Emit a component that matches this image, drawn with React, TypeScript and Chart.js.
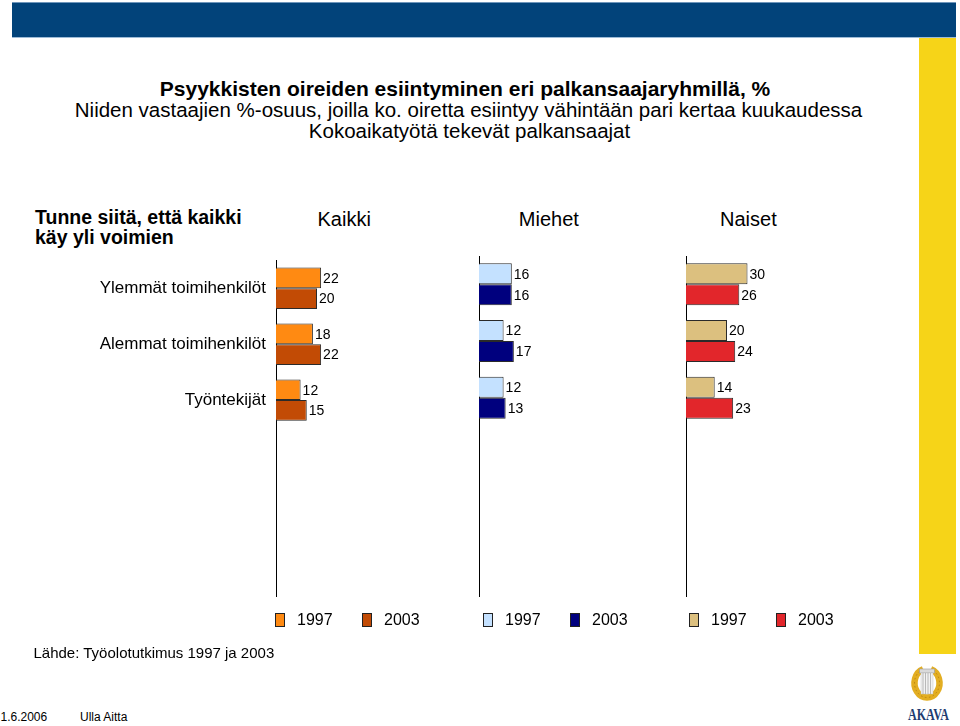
import React, { useEffect, useRef } from "react";
import { Chart, registerables } from "chart.js";

Chart.register(...registerables);

const FONT = "'Liberation Sans', Arial, Helvetica, sans-serif";

// ---- data ----
const categories = ["Ylemmät toimihenkilöt", "Alemmat toimihenkilöt", "Työntekijät", "", "", ""];
const years = ["1997", "2003"];
const kaikki1997 = [22, 18, 12];
const kaikki2003 = [20, 22, 15];
const miehet1997 = [16, 12, 12];
const miehet2003 = [16, 17, 13];
const naiset1997 = [30, 20, 14];
const naiset2003 = [26, 24, 23];
const panelTitles = ["Kaikki", "Miehet", "Naiset"];
const xMax = 100;

const titleLines = [
  "Psyykkisten oireiden esiintyminen eri palkansaajaryhmillä, %",
  "Niiden vastaajien %-osuus, joilla ko. oiretta esiintyy vähintään pari kertaa kuukaudessa",
  "Kokoaikatyötä tekevät palkansaajat",
];
const questionLines = ["Tunne siitä, että kaikki", "käy yli voimien"];
const sourceText = "Lähde: Työolotutkimus 1997 ja 2003";
const dateText = "1.6.2006";
const authorText = "Ulla Aitta";

type Panel = {
  series: number[][];
  colors: string[];
  left: number;
  width: number;
  yWidth: number;
  showLabels: boolean;
  legendOffset: number;
};

const panels: Panel[] = [
  { series: [kaikki1997, kaikki2003], colors: ["#FF8A12", "#C24B05"], left: 0, width: 481, yWidth: 276, showLabels: true, legendOffset: -1 },
  { series: [miehet1997, miehet2003], colors: ["#C4E1FF", "#00007E"], left: 473, width: 211, yWidth: 6, showLabels: false, legendOffset: 4 },
  { series: [naiset1997, naiset2003], colors: ["#DCC07F", "#E2262B"], left: 680, width: 211, yWidth: 6, showLabels: false, legendOffset: 3 },
];

const CANVAS_TOP = 240;
const CANVAS_H = 410;

const valueLabels = {
  id: "valueLabels",
  afterDatasetsDraw(chart: any) {
    const { ctx } = chart;
    ctx.save();
    ctx.font = `14px ${FONT}`;
    ctx.fillStyle = "#000";
    ctx.textAlign = "left";
    ctx.textBaseline = "middle";
    chart.data.datasets.forEach((ds: any, i: number) => {
      const meta = chart.getDatasetMeta(i);
      meta.data.forEach((el: any, j: number) => {
        const v = ds.data[j];
        if (v == null) return;
        ctx.fillText(String(v), el.x + 2, el.y + 1);
      });
    });
    ctx.restore();
  },
};

function makeLegend(offset: number) {
  return {
    id: "panelLegend",
    afterDraw(chart: any) {
      const { ctx, chartArea } = chart;
      const y = chartArea.bottom + 24;
      ctx.save();
      ctx.font = `16px ${FONT}`;
      ctx.textBaseline = "middle";
      ctx.textAlign = "left";
      chart.data.datasets.forEach((ds: any, i: number) => {
        const x = Math.round(chartArea.left + offset + i * 87.3);
        ctx.fillStyle = ds.backgroundColor;
        ctx.fillRect(x, y - 7, 10, 14);
        ctx.strokeStyle = "#222";
        ctx.lineWidth = 1;
        ctx.strokeRect(x + 0.5, y - 6.5, 9, 13);
        ctx.fillStyle = "#000";
        ctx.fillText(ds.label, x + 22, y + 1);
      });
      ctx.restore();
    },
  };
}

function PanelChart({ panel }: { panel: Panel }) {
  const ref = useRef<HTMLCanvasElement | null>(null);
  useEffect(() => {
    if (!ref.current) return;
    const chart = new Chart(ref.current, {
      type: "bar",
      data: {
        labels: categories,
        datasets: panel.series.map((s, i) => ({
          label: years[i],
          data: s,
          backgroundColor: panel.colors[i],
          borderColor: "#2a2a2a",
          borderWidth: 1,
          categoryPercentage: 0.741,
          barPercentage: 1,
        })),
      },
      options: {
        indexAxis: "y",
        animation: false,
        responsive: false,
        maintainAspectRatio: false,
        events: [],
        layout: { padding: { top: 16, bottom: 54, left: 0, right: 0 } },
        plugins: {
          legend: { display: false },
          tooltip: { enabled: false },
          title: { display: false },
        },
        scales: {
          x: { display: false, min: 0, max: xMax },
          y: {
            position: "left",
            grid: { display: false, drawTicks: false },
            border: { display: true, color: "#000", width: 1 },
            ticks: {
              display: panel.showLabels,
              autoSkip: false,
              padding: 10,
              color: "#000",
              font: { family: FONT, size: 17 },
            },
            afterFit: (scale: any) => {
              scale.width = panel.yWidth;
            },
          },
        },
      } as any,
      plugins: [valueLabels, makeLegend(panel.legendOffset)],
    });
    return () => chart.destroy();
  }, [panel]);
  return (
    <canvas
      ref={ref}
      width={panel.width}
      height={CANVAS_H}
      style={{ position: "absolute", left: panel.left, top: CANVAS_TOP, width: panel.width, height: CANVAS_H }}
    />
  );
}

function Txt({
  text, x, baseline, size, bold = false, align = "left",
}: { text: string; x: number; baseline: number; size: number; bold?: boolean; align?: "left" | "center" }) {
  const top = baseline - 0.8465 * size;
  return (
    <div
      style={{
        position: "absolute",
        left: x,
        top,
        fontFamily: FONT,
        fontSize: size,
        lineHeight: `${size}px`,
        fontWeight: bold ? "bold" : "normal",
        whiteSpace: "nowrap",
        color: "#000",
        transform: align === "center" ? "translateX(-50%)" : undefined,
      }}
    >
      {text}
    </div>
  );
}

function Logo() {
  const cx = 24, cy = 22, rx = 12.5, ry = 14.5;
  const a = 0.32; // half-gap angle at top (radians)
  const lx = cx - rx * Math.sin(a), rxp = cx + rx * Math.sin(a);
  const ty = cy - ry * Math.cos(a);
  const arc = `M ${lx} ${ty} A ${rx} ${ry} 0 1 0 ${rxp} ${ty}`;
  return (
    <svg width={52} height={64} viewBox="0 0 52 64" style={{ position: "absolute", left: 903, top: 661 }}>
      <path d={arc} fill="none" stroke="#E3AE22" strokeWidth={6.5} />
      <path d={arc} fill="none" stroke="#B98314" strokeWidth={1} strokeDasharray="1.5 2.5" />
      <rect x={16.5} y={8} width={15} height={4} fill="#DADADA" stroke="#9a9a9a" strokeWidth={0.6} />
      <rect x={18} y={12} width={12} height={21} fill="#F2F2F2" stroke="#bbb" strokeWidth={0.4} />
      {[20, 22.5, 25, 27.5].map((x) => (
        <line key={x} x1={x} y1={12} x2={x} y2={33} stroke="#A8A8A8" strokeWidth={0.8} />
      ))}
      <text x={5} y={59} textLength={41} lengthAdjust="spacingAndGlyphs" fontFamily="'Liberation Serif', 'Times New Roman', serif" fontWeight="bold" fontSize={16} fill="#1E3C70">
        AKAVA
      </text>
    </svg>
  );
}

export default function App() {
  const headerCenters = [344.2, 548.8, 748.4];
  return (
    <div style={{ position: "fixed", left: 0, top: 0, width: 960, height: 726, background: "#fff", overflow: "hidden" }}>
      {/* banner */}
      <div style={{ position: "absolute", left: 12, top: 2, width: 944, height: 35, background: "#02437A", borderTop: "1px solid #6f96bb" }} />
      <div style={{ position: "absolute", left: 12, top: 37, width: 944, height: 1, background: "#9dbbd7" }} />
      {/* yellow side bar */}
      <div style={{ position: "absolute", left: 919, top: 38, width: 37, height: 616, background: "#F6D418" }} />

      {/* titles */}
      <Txt text={titleLines[0]} x={465} baseline={96} size={21} bold align="center" />
      <Txt text={titleLines[1]} x={468.5} baseline={117} size={20.5} align="center" />
      <Txt text={titleLines[2]} x={469.5} baseline={138} size={20.5} align="center" />

      {/* question */}
      <Txt text={questionLines[0]} x={35} baseline={225} size={19.5} bold />
      <Txt text={questionLines[1]} x={35} baseline={245} size={19.5} bold />

      {/* panel headers */}
      {panelTitles.map((t, i) => (
        <Txt key={t} text={t} x={headerCenters[i]} baseline={226} size={20} align="center" />
      ))}

      {panels.map((p, i) => (
        <PanelChart key={i} panel={p} />
      ))}

      {/* footer */}
      <Txt text={sourceText} x={33.5} baseline={657.5} size={15} />
      <Txt text={dateText} x={0.5} baseline={721.5} size={12} />
      <Txt text={authorText} x={80} baseline={721.5} size={12} />
      <Logo />
    </div>
  );
}
